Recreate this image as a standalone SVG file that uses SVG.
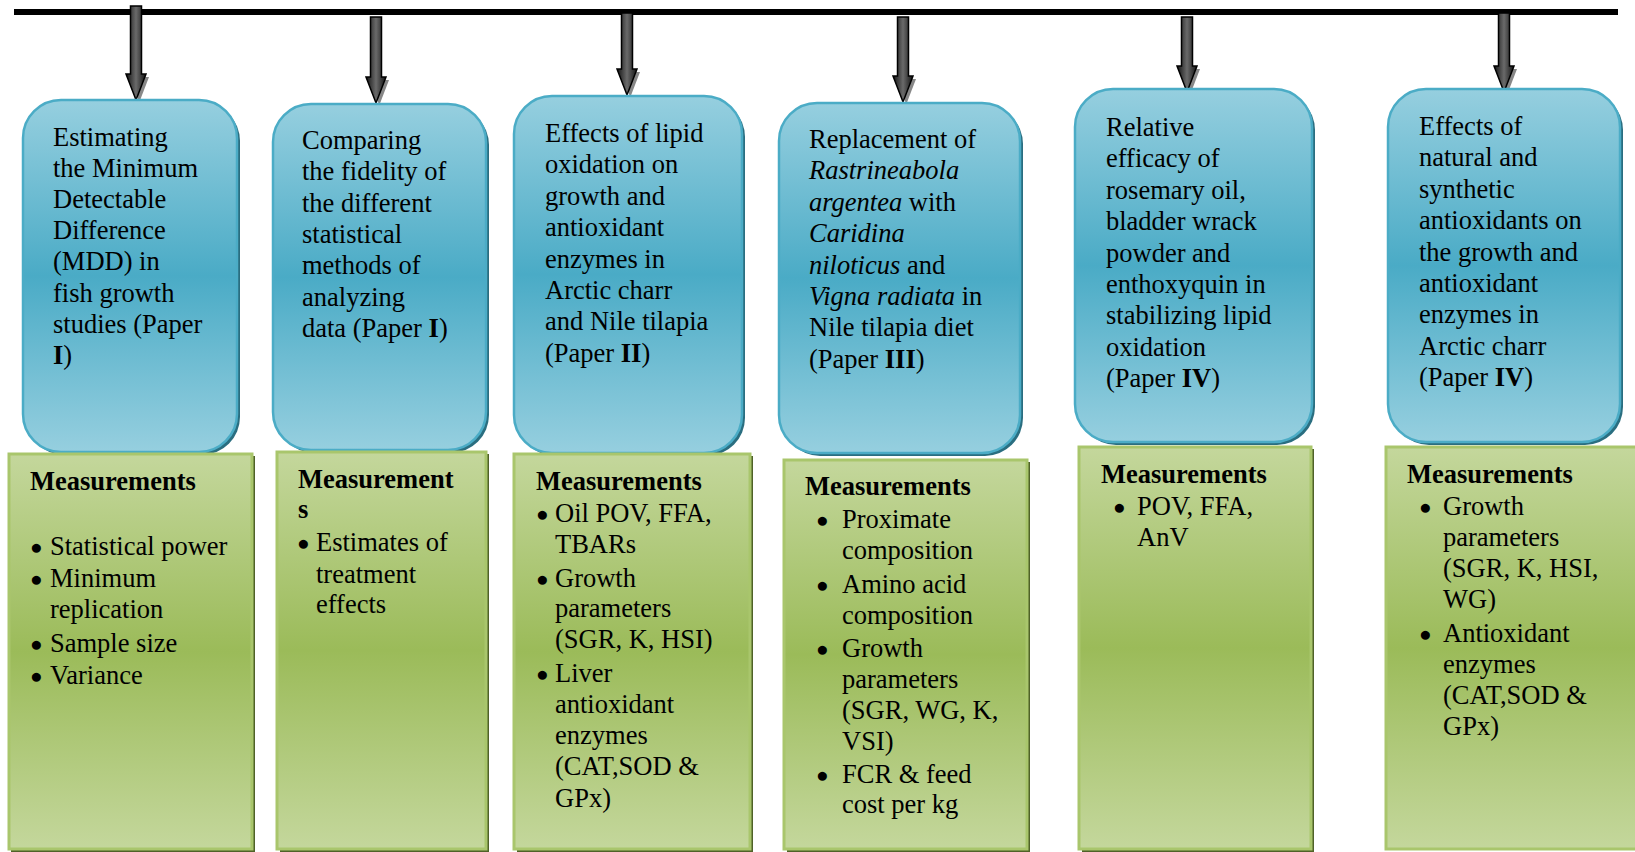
<svg xmlns="http://www.w3.org/2000/svg" width="1635" height="852" viewBox="0 0 1635 852">
<defs>
<linearGradient id="gBlue" x1="0" y1="0" x2="0" y2="1">
<stop offset="0" stop-color="#96cfdf"/>
<stop offset="0.5" stop-color="#4aabc6"/>
<stop offset="1" stop-color="#96cfdf"/>
</linearGradient>
<linearGradient id="gGreen" x1="0" y1="0" x2="0" y2="1">
<stop offset="0" stop-color="#c4d79c"/>
<stop offset="0.5" stop-color="#9bbb59"/>
<stop offset="1" stop-color="#c4d79c"/>
</linearGradient>
<linearGradient id="gArrow" x1="0" y1="0" x2="1" y2="0">
<stop offset="0" stop-color="#111"/>
<stop offset="0.5" stop-color="#6a6a6a"/>
<stop offset="1" stop-color="#111"/>
</linearGradient>
</defs>
<style>
.t{font-family:"Liberation Serif","Times New Roman",serif;font-size:26.5px;fill:#000}
.b{font-weight:bold}
.i{font-style:italic}
.bl{font-size:21px}
.blue{fill:url(#gBlue);stroke:#4bacc6;stroke-width:2.5}
.bsh{fill:#2a6e80}
.green{fill:url(#gGreen);stroke:#a9c66c;stroke-width:3}
.gsh{fill:#4f6228}
.arr{fill:url(#gArrow);stroke:#000;stroke-width:1.5}
.ash{fill:#888}
</style>

<g id="connectors">
<line x1="14" y1="12" x2="1618" y2="12" stroke="#000" stroke-width="6"/>
<path class="ash" d="M133,77 L149,77 L139,103 Z"/>
<path class="arr" d="M130.5,6 L141.5,6 L141.5,74 L146,74 L136,100 L126,74 L130.5,74 Z"/>
<path class="ash" d="M373,80 L389,80 L379,106 Z"/>
<path class="arr" d="M370.5,17 L381.5,17 L381.5,77 L386,77 L376,103 L366,77 L370.5,77 Z"/>
<path class="ash" d="M624,72 L640,72 L630,98 Z"/>
<path class="arr" d="M621.5,13 L632.5,13 L632.5,69 L637,69 L627,95 L617,69 L621.5,69 Z"/>
<path class="ash" d="M900,79 L916,79 L906,105 Z"/>
<path class="arr" d="M897.5,17 L908.5,17 L908.5,76 L913,76 L903,102 L893,76 L897.5,76 Z"/>
<path class="ash" d="M1184,69 L1200,69 L1190,95 Z"/>
<path class="arr" d="M1181.5,17 L1192.5,17 L1192.5,66 L1197,66 L1187,92 L1177,66 L1181.5,66 Z"/>
<path class="ash" d="M1501,69 L1517,69 L1507,95 Z"/>
<path class="arr" d="M1498.5,13 L1509.5,13 L1509.5,66 L1514,66 L1504,92 L1494,66 L1498.5,66 Z"/>
</g>

<g id="study1">
<rect class="bsh" x="26" y="103" width="214" height="352" rx="38"/>
<rect class="blue" x="23" y="100" width="214" height="352" rx="38"/>
<text class="t" x="53" y="146">Estimating</text>
<text class="t" x="53" y="177">the Minimum</text>
<text class="t" x="53" y="208">Detectable</text>
<text class="t" x="53" y="239">Difference</text>
<text class="t" x="53" y="270">(MDD) in</text>
<text class="t" x="53" y="302">fish growth</text>
<text class="t" x="53" y="333">studies (Paper</text>
<text class="t" x="53" y="364"><tspan class="b">I</tspan>)</text>
</g>

<g id="study2">
<rect class="bsh" x="276" y="107" width="213" height="346" rx="38"/>
<rect class="blue" x="273" y="104" width="213" height="346" rx="38"/>
<text class="t" x="302" y="149">Comparing</text>
<text class="t" x="302" y="180">the fidelity of</text>
<text class="t" x="302" y="212">the different</text>
<text class="t" x="302" y="243">statistical</text>
<text class="t" x="302" y="274">methods of</text>
<text class="t" x="302" y="306">analyzing</text>
<text class="t" x="302" y="337">data (Paper <tspan class="b">I</tspan>)</text>
</g>

<g id="study3">
<rect class="bsh" x="517" y="99" width="228" height="357" rx="38"/>
<rect class="blue" x="514" y="96" width="228" height="357" rx="38"/>
<text class="t" x="545" y="142">Effects of lipid</text>
<text class="t" x="545" y="173">oxidation on</text>
<text class="t" x="545" y="205">growth and</text>
<text class="t" x="545" y="236">antioxidant</text>
<text class="t" x="545" y="268">enzymes in</text>
<text class="t" x="545" y="299">Arctic charr</text>
<text class="t" x="545" y="330">and Nile tilapia</text>
<text class="t" x="545" y="362">(Paper <tspan class="b">II</tspan>)</text>
</g>

<g id="study4">
<rect class="bsh" x="782" y="106" width="241" height="350" rx="38"/>
<rect class="blue" x="779" y="103" width="241" height="350" rx="38"/>
<text class="t" x="809" y="148">Replacement of</text>
<text class="t i" x="809" y="179">Rastrineabola</text>
<text class="t" x="809" y="211"><tspan class="i">argentea</tspan> with</text>
<text class="t i" x="809" y="242">Caridina</text>
<text class="t" x="809" y="274"><tspan class="i">niloticus</tspan> and</text>
<text class="t" x="809" y="305"><tspan class="i">Vigna radiata</tspan> in</text>
<text class="t" x="809" y="336">Nile tilapia diet</text>
<text class="t" x="809" y="368">(Paper <tspan class="b">III</tspan>)</text>
</g>

<g id="study5">
<rect class="bsh" x="1078" y="92" width="237" height="353" rx="38"/>
<rect class="blue" x="1075" y="89" width="237" height="353" rx="38"/>
<text class="t" x="1106" y="136">Relative</text>
<text class="t" x="1106" y="167">efficacy of</text>
<text class="t" x="1106" y="199">rosemary oil,</text>
<text class="t" x="1106" y="230">bladder wrack</text>
<text class="t" x="1106" y="262">powder and</text>
<text class="t" x="1106" y="293">enthoxyquin in</text>
<text class="t" x="1106" y="324">stabilizing lipid</text>
<text class="t" x="1106" y="356">oxidation</text>
<text class="t" x="1106" y="387">(Paper <tspan class="b">IV</tspan>)</text>
</g>

<g id="study6">
<rect class="bsh" x="1391" y="92" width="232" height="353" rx="38"/>
<rect class="blue" x="1388" y="89" width="232" height="353" rx="38"/>
<text class="t" x="1419" y="135">Effects of</text>
<text class="t" x="1419" y="166">natural and</text>
<text class="t" x="1419" y="198">synthetic</text>
<text class="t" x="1419" y="229">antioxidants on</text>
<text class="t" x="1419" y="261">the growth and</text>
<text class="t" x="1419" y="292">antioxidant</text>
<text class="t" x="1419" y="323">enzymes in</text>
<text class="t" x="1419" y="355">Arctic charr</text>
<text class="t" x="1419" y="386">(Paper <tspan class="b">IV</tspan>)</text>
</g>

<g id="measure1">
<rect class="gsh" x="11" y="456" width="244" height="396"/>
<rect class="green" x="9" y="454" width="243" height="395"/>
<text class="t b" x="30" y="490">Measurements</text>
<text class="t" y="555"><tspan class="bl" x="30" dy="-1">●</tspan><tspan x="50" dy="1">Statistical power</tspan></text>
<text class="t" y="587"><tspan class="bl" x="30" dy="-1">●</tspan><tspan x="50" dy="1">Minimum</tspan></text>
<text class="t" x="50" y="618">replication</text>
<text class="t" y="652"><tspan class="bl" x="30" dy="-1">●</tspan><tspan x="50" dy="1">Sample size</tspan></text>
<text class="t" y="684"><tspan class="bl" x="30" dy="-1">●</tspan><tspan x="50" dy="1">Variance</tspan></text>
</g>

<g id="measure2">
<rect class="gsh" x="280" y="454" width="209" height="398"/>
<rect class="green" x="277" y="452" width="209" height="397"/>
<text class="t b" x="298" y="488">Measurement</text>
<text class="t b" x="298" y="518">s</text>
<text class="t" y="551"><tspan class="bl" x="297" dy="-1">●</tspan><tspan x="316" dy="1">Estimates of</tspan></text>
<text class="t" x="316" y="583">treatment</text>
<text class="t" x="316" y="613">effects</text>
</g>

<g id="measure3">
<rect class="gsh" x="517" y="456" width="236" height="396"/>
<rect class="green" x="514" y="454" width="236" height="395"/>
<text class="t b" x="536" y="490">Measurements</text>
<text class="t" y="522"><tspan class="bl" x="536" dy="-1">●</tspan><tspan x="555" dy="1">Oil POV, FFA,</tspan></text>
<text class="t" x="555" y="553">TBARs</text>
<text class="t" y="587"><tspan class="bl" x="536" dy="-1">●</tspan><tspan x="555" dy="1">Growth</tspan></text>
<text class="t" x="555" y="617">parameters</text>
<text class="t" x="555" y="648">(SGR, K, HSI)</text>
<text class="t" y="682"><tspan class="bl" x="536" dy="-1">●</tspan><tspan x="555" dy="1">Liver</tspan></text>
<text class="t" x="555" y="713">antioxidant</text>
<text class="t" x="555" y="744">enzymes</text>
<text class="t" x="555" y="775">(CAT,SOD &amp;</text>
<text class="t" x="555" y="807">GPx)</text>
</g>

<g id="measure4">
<rect class="gsh" x="787" y="462" width="243" height="390"/>
<rect class="green" x="784" y="460" width="243" height="389"/>
<text class="t b" x="805" y="495">Measurements</text>
<text class="t" y="528"><tspan class="bl" x="816" dy="-1">●</tspan><tspan x="842" dy="1">Proximate</tspan></text>
<text class="t" x="842" y="559">composition</text>
<text class="t" y="593"><tspan class="bl" x="816" dy="-1">●</tspan><tspan x="842" dy="1">Amino acid</tspan></text>
<text class="t" x="842" y="624">composition</text>
<text class="t" y="657"><tspan class="bl" x="816" dy="-1">●</tspan><tspan x="842" dy="1">Growth</tspan></text>
<text class="t" x="842" y="688">parameters</text>
<text class="t" x="842" y="719">(SGR, WG, K,</text>
<text class="t" x="842" y="750">VSI)</text>
<text class="t" y="783"><tspan class="bl" x="816" dy="-1">●</tspan><tspan x="842" dy="1">FCR &amp; feed</tspan></text>
<text class="t" x="842" y="813">cost per kg</text>
</g>

<g id="measure5">
<rect class="gsh" x="1082" y="449" width="232" height="403"/>
<rect class="green" x="1079" y="447" width="232" height="402"/>
<text class="t b" x="1101" y="483">Measurements</text>
<text class="t" y="515"><tspan class="bl" x="1113" dy="-1">●</tspan><tspan x="1137" dy="1">POV, FFA,</tspan></text>
<text class="t" x="1137" y="546">AnV</text>
</g>

<g id="measure6">
<rect class="green" x="1386" y="447" width="260" height="402"/>
<text class="t b" x="1407" y="483">Measurements</text>
<text class="t" y="515"><tspan class="bl" x="1419" dy="-1">●</tspan><tspan x="1443" dy="1">Growth</tspan></text>
<text class="t" x="1443" y="546">parameters</text>
<text class="t" x="1443" y="577">(SGR, K, HSI,</text>
<text class="t" x="1443" y="608">WG)</text>
<text class="t" y="642"><tspan class="bl" x="1419" dy="-1">●</tspan><tspan x="1443" dy="1">Antioxidant</tspan></text>
<text class="t" x="1443" y="673">enzymes</text>
<text class="t" x="1443" y="704">(CAT,SOD &amp;</text>
<text class="t" x="1443" y="735">GPx)</text>
</g>
</svg>
